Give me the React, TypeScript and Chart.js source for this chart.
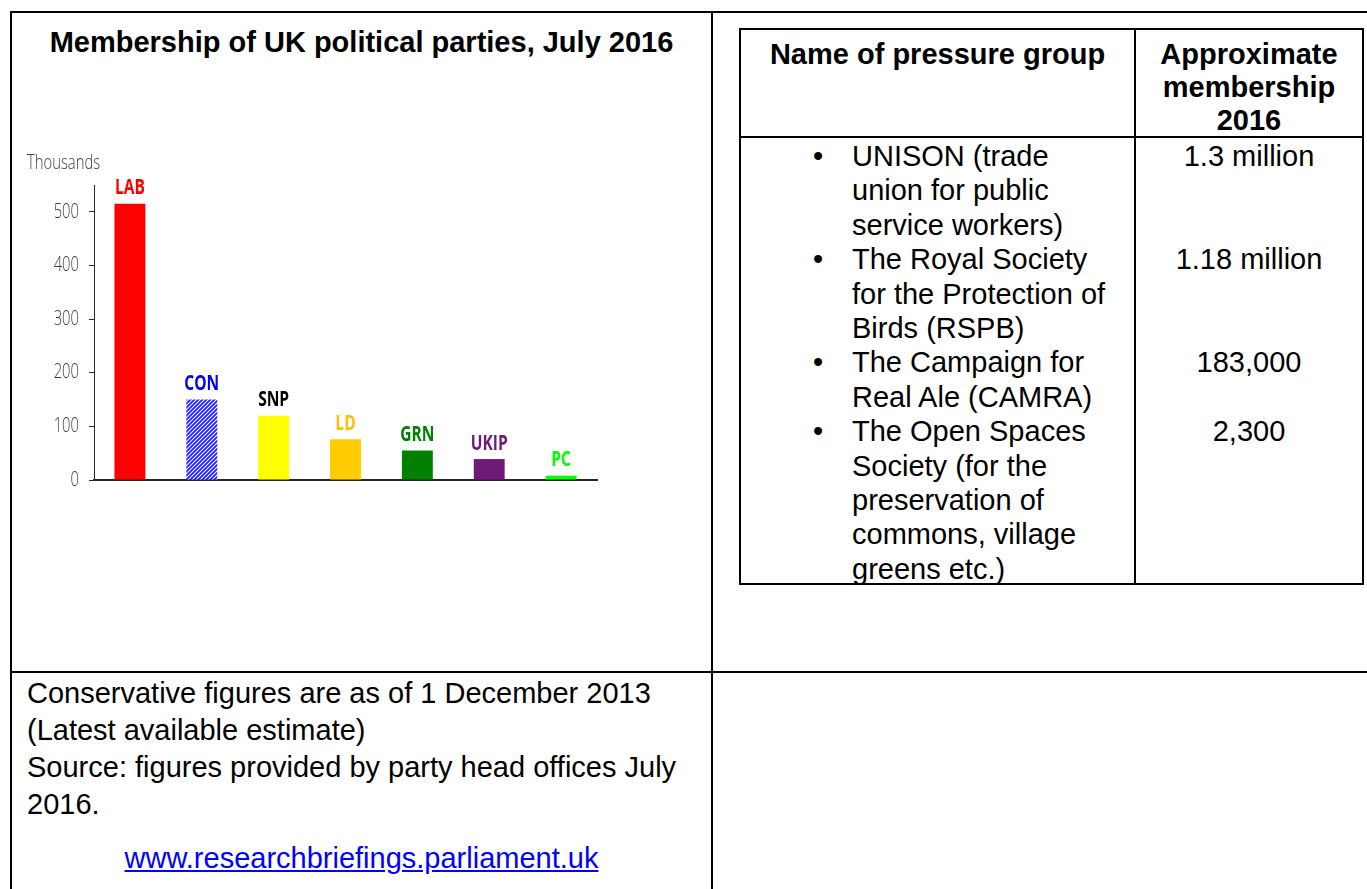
import React, { useEffect, useRef } from "react";
import { Chart, registerables } from "chart.js";
Chart.register(...registerables);

// ---- chart data ----
const parties = ["LAB", "CON", "SNP", "LD", "GRN", "UKIP", "PC"];
const membershipThousands = [515, 150, 120, 76, 55, 39, 8];
const yAxisTitle = "Thousands";
const yAxisMax = 550;
const yTickStep = 100;

// ---- chart styles ----
const barColors = ["#ff0000", "#2b2bff", "#ffff00", "#ffcc00", "#008000", "#701a78", "#00ff00"];
const labelColors = ["#ff0000", "#0000ff", "#000000", "#ffc000", "#008000", "#701a78", "#00ff00"];
const hatchedParties = ["CON"];

// ---- text content ----
const chartTitle = "Membership of UK political parties, July 2016";
const tableHeaderName = ["Name of pressure group"];
const tableHeaderMembership = ["Approximate", "membership", "2016"];
const pressureGroups = [
  ["UNISON (trade", "union for public", "service workers)"],
  ["The Royal Society", "for the Protection of", "Birds (RSPB)"],
  ["The Campaign for", "Real Ale (CAMRA)"],
  ["The Open Spaces", "Society (for the", "preservation of", "commons, village", "greens etc.)"],
];
const pressureGroupMembership = ["1.3 million", "1.18 million", "183,000", "2,300"];
const footnoteLines = [
  "Conservative figures are as of 1 December 2013",
  "(Latest available estimate)",
  "Source: figures provided by party head offices July",
  "2016.",
];
const sourceLink = "www.researchbriefings.parliament.uk";

const ARIAL = "'Liberation Sans', Arial, Helvetica, sans-serif";
const CHARTFONT = "'Open Sans', 'DejaVu Sans', sans-serif";
const SQUEEZE = 0.74;

function makeHatch(): CanvasPattern | string {
  const c = document.createElement("canvas");
  c.width = 4;
  c.height = 4;
  const g = c.getContext("2d");
  if (!g) return "#3333ff";
  g.fillStyle = "#ffffff";
  g.fillRect(0, 0, 4, 4);
  g.strokeStyle = "#1f1fff";
  g.lineWidth = 1.8;
  g.beginPath();
  g.moveTo(0, 4);
  g.lineTo(4, 0);
  g.moveTo(-1, 1);
  g.lineTo(1, -1);
  g.moveTo(3, 5);
  g.lineTo(5, 3);
  g.stroke();
  const p = g.createPattern(c, "repeat");
  return p || "#3333ff";
}

function squeezedText(ctx: CanvasRenderingContext2D, text: string, x: number, y: number) {
  ctx.save();
  ctx.translate(x, y);
  ctx.scale(SQUEEZE, 1);
  ctx.fillText(text, 0, 0);
  ctx.restore();
}

function PartyChart() {
  const ref = useRef<HTMLCanvasElement | null>(null);
  useEffect(() => {
    if (!ref.current) return;
    const hatch = makeHatch();
    const bg = parties.map((p, i) => (hatchedParties.includes(p) ? hatch : barColors[i]));

    const labelPlugin = {
      id: "barLabels",
      afterDraw(chart: any) {
        const ctx = chart.ctx as CanvasRenderingContext2D;
        const meta = chart.getDatasetMeta(0);
        ctx.save();
        // party labels above bars
        ctx.font = `bold 21px ${CHARTFONT}`;
        ctx.textAlign = "center";
        ctx.textBaseline = "bottom";
        meta.data.forEach((el: any, i: number) => {
          ctx.fillStyle = labelColors[i];
          squeezedText(ctx, parties[i], el.x, el.y - 5);
        });
        // y tick labels (condensed), positioned from the library's scale
        const y = chart.scales.y;
        ctx.font = `300 20px ${CHARTFONT}`;
        ctx.fillStyle = "#404040";
        ctx.textAlign = "right";
        ctx.textBaseline = "middle";
        y.ticks.forEach((t: any) => {
          squeezedText(ctx, String(t.value), y.right - 15, y.getPixelForValue(t.value));
        });
        // axis unit title
        ctx.textAlign = "left";
        squeezedText(ctx, yAxisTitle, 27, 13);
        ctx.restore();
      },
    };

    const chart = new Chart(ref.current, {
      type: "bar",
      data: {
        labels: parties,
        datasets: [
          {
            data: membershipThousands,
            backgroundColor: bg as any,
            borderWidth: 0,
            barPercentage: 0.43,
            categoryPercentage: 1,
          },
        ],
      },
      options: {
        animation: false,
        responsive: false,
        maintainAspectRatio: false,
        layout: { padding: { left: 0, right: 13, top: 35, bottom: 15 } },
        plugins: {
          legend: { display: false },
          tooltip: { enabled: false },
          title: { display: false },
        },
        scales: {
          x: {
            grid: { display: false },
            ticks: { display: false },
            border: { display: true, color: "#262626", width: 2 },
            afterFit: (s: any) => {
              s.height = 0;
            },
          },
          y: {
            min: 0,
            max: yAxisMax,
            ticks: {
              stepSize: yTickStep,
              includeBounds: false,
              padding: 10,
              color: "rgba(0,0,0,0)",
              font: { family: CHARTFONT, size: 1, lineHeight: 1 },
            },
            grid: {
              drawOnChartArea: false,
              drawTicks: true,
              tickLength: 5,
              color: "#262626",
            },
            border: { display: true, color: "#262626", width: 1 },
            afterFit: (s: any) => {
              s.width = 94;
            },
          },
        },
      },
      plugins: [labelPlugin],
    });
    return () => chart.destroy();
  }, []);
  return (
    <canvas
      ref={ref}
      width={610}
      height={345}
      style={{ position: "absolute", left: 0, top: 150, width: 610, height: 345 }}
    />
  );
}

const line = (left: number, top: number, width: number, height: number) => (
  <div style={{ position: "absolute", left, top, width, height, background: "#000" }} />
);

export default function App() {
  const bodyLH = 34.4;
  const bodyTop = 139;
  let idx = 0;
  const groupStarts: number[] = [];
  pressureGroups.forEach((g) => {
    groupStarts.push(idx);
    idx += g.length;
  });

  return (
    <div
      style={{
        position: "fixed",
        left: 0,
        top: 0,
        width: 1367,
        height: 889,
        overflow: "hidden",
        background: "#fff",
        fontFamily: ARIAL,
        fontSize: 29,
        color: "#000",
      }}
    >
      {/* outer grid */}
      {line(10, 11, 1400, 2)}
      {line(10, 11, 2, 900)}
      {line(711, 11, 2, 900)}
      {line(10, 671, 1400, 2)}

      {/* left cell title */}
      <div
        style={{
          position: "absolute",
          left: 12,
          top: 25,
          width: 699,
          lineHeight: "34px",
          textAlign: "center",
          fontWeight: "bold",
        }}
      >
        {chartTitle}
      </div>

      <PartyChart />

      {/* table */}
      <div
        style={{
          position: "absolute",
          left: 739,
          top: 28,
          width: 1364 - 739,
          height: 585 - 28,
          border: "2px solid #000",
          boxSizing: "border-box",
        }}
      />
      {line(1134, 28, 2, 585 - 28)}
      {line(739, 136, 1364 - 739, 2)}

      <div
        style={{
          position: "absolute",
          left: 741,
          top: 38,
          width: 393,
          lineHeight: "33px",
          textAlign: "center",
          fontWeight: "bold",
        }}
      >
        {tableHeaderName.map((t, i) => (
          <div key={i}>{t}</div>
        ))}
      </div>
      <div
        style={{
          position: "absolute",
          left: 1136,
          top: 38,
          width: 226,
          lineHeight: "33px",
          textAlign: "center",
          fontWeight: "bold",
        }}
      >
        {tableHeaderMembership.map((t, i) => (
          <div key={i}>{t}</div>
        ))}
      </div>

      {pressureGroups.map((g, gi) => (
        <React.Fragment key={gi}>
          <div
            style={{
              position: "absolute",
              left: 808,
              top: bodyTop + groupStarts[gi] * bodyLH,
              width: 20,
              lineHeight: `${bodyLH}px`,
              textAlign: "center",
            }}
          >
            •
          </div>
          {g.map((t, li) => (
            <div
              key={li}
              style={{
                position: "absolute",
                left: 852,
                top: bodyTop + (groupStarts[gi] + li) * bodyLH,
                lineHeight: `${bodyLH}px`,
                whiteSpace: "nowrap",
              }}
            >
              {t}
            </div>
          ))}
          <div
            style={{
              position: "absolute",
              left: 1136,
              width: 226,
              top: bodyTop + groupStarts[gi] * bodyLH,
              lineHeight: `${bodyLH}px`,
              textAlign: "center",
              whiteSpace: "nowrap",
            }}
          >
            {pressureGroupMembership[gi]}
          </div>
        </React.Fragment>
      ))}

      {/* footnote */}
      {footnoteLines.map((t, i) => (
        <div
          key={i}
          style={{
            position: "absolute",
            left: 27,
            top: 675 + i * 37,
            lineHeight: "37px",
            whiteSpace: "nowrap",
          }}
        >
          {t}
        </div>
      ))}
      <div
        style={{
          position: "absolute",
          left: 12,
          width: 699,
          top: 840,
          lineHeight: "37px",
          textAlign: "center",
        }}
      >
        <a href="#" style={{ color: "#0000ff", textDecoration: "underline" }}>
          {sourceLink}
        </a>
      </div>
    </div>
  );
}
